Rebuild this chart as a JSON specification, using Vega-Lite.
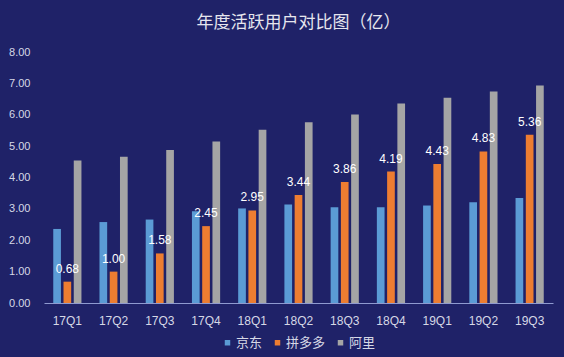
{
  "$schema": "https://vega.github.io/schema/vega-lite/v6.json",
  "autosize": "none",
  "width": 509,
  "height": 251,
  "padding": {"left": 44, "top": 52, "right": 11, "bottom": 54},
  "background": "#1f2268",
  "title": {
    "text": "年度活跃用户对比图（亿）",
    "color": "#e6e6ee",
    "fontSize": 17,
    "fontWeight": "normal",
    "font": "Noto Sans CJK SC",
    "anchor": "middle",
    "frame": "group",
    "offset": 14
  },
  "config": {
    "view": {"stroke": null},
    "font": "Noto Sans CJK SC",
    "legend": {"layout": {"bottom": {"anchor": "middle"}}}
  },
  "data": {
    "values": [
      {"q": "17Q1", "s": "京东", "v": 2.36},
      {"q": "17Q1", "s": "拼多多", "v": 0.68},
      {"q": "17Q1", "s": "阿里", "v": 4.54},
      {"q": "17Q2", "s": "京东", "v": 2.58},
      {"q": "17Q2", "s": "拼多多", "v": 1.00},
      {"q": "17Q2", "s": "阿里", "v": 4.66},
      {"q": "17Q3", "s": "京东", "v": 2.66},
      {"q": "17Q3", "s": "拼多多", "v": 1.58},
      {"q": "17Q3", "s": "阿里", "v": 4.88},
      {"q": "17Q4", "s": "京东", "v": 2.925},
      {"q": "17Q4", "s": "拼多多", "v": 2.45},
      {"q": "17Q4", "s": "阿里", "v": 5.15},
      {"q": "18Q1", "s": "京东", "v": 3.014},
      {"q": "18Q1", "s": "拼多多", "v": 2.95},
      {"q": "18Q1", "s": "阿里", "v": 5.52},
      {"q": "18Q2", "s": "京东", "v": 3.137},
      {"q": "18Q2", "s": "拼多多", "v": 3.44},
      {"q": "18Q2", "s": "阿里", "v": 5.76},
      {"q": "18Q3", "s": "京东", "v": 3.053},
      {"q": "18Q3", "s": "拼多多", "v": 3.86},
      {"q": "18Q3", "s": "阿里", "v": 6.01},
      {"q": "18Q4", "s": "京东", "v": 3.052},
      {"q": "18Q4", "s": "拼多多", "v": 4.19},
      {"q": "18Q4", "s": "阿里", "v": 6.36},
      {"q": "19Q1", "s": "京东", "v": 3.107},
      {"q": "19Q1", "s": "拼多多", "v": 4.43},
      {"q": "19Q1", "s": "阿里", "v": 6.54},
      {"q": "19Q2", "s": "京东", "v": 3.213},
      {"q": "19Q2", "s": "拼多多", "v": 4.83},
      {"q": "19Q2", "s": "阿里", "v": 6.74},
      {"q": "19Q3", "s": "京东", "v": 3.343},
      {"q": "19Q3", "s": "拼多多", "v": 5.36},
      {"q": "19Q3", "s": "阿里", "v": 6.93}
    ]
  },
  "encoding": {
    "x": {
      "field": "q",
      "type": "nominal",
      "sort": null,
      "scale": {"paddingInner": 0.39, "paddingOuter": 0.2},
      "axis": {
        "title": null,
        "labelAngle": 0,
        "labelColor": "#d6d8e6",
        "labelFontSize": 12,
        "labelFont": "Liberation Sans",
        "labelPadding": 12,
        "ticks": false,
        "domainColor": "#8f9ad0",
        "domainWidth": 1.2
      }
    },
    "y": {
      "field": "v",
      "type": "quantitative",
      "scale": {"domain": [0, 8]},
      "axis": {
        "title": null,
        "values": [0, 1, 2, 3, 4, 5, 6, 7, 8],
        "format": ".2f",
        "grid": false,
        "domain": false,
        "ticks": false,
        "labelColor": "#d6d8e6",
        "labelFontSize": 11,
        "labelFont": "Liberation Sans",
        "labelPadding": 14
      }
    }
  },
  "layer": [
    {
      "mark": {"type": "bar"},
      "encoding": {
        "xOffset": {
          "field": "s",
          "type": "nominal",
          "sort": ["京东", "拼多多", "阿里"],
          "scale": {"paddingInner": 0.25}
        },
        "color": {
          "field": "s",
          "type": "nominal",
          "sort": ["京东", "拼多多", "阿里"],
          "scale": {"domain": ["京东", "拼多多", "阿里"], "range": ["#5b9bd5", "#ed7d31", "#a5a5a5"]},
          "legend": {
            "title": null,
            "orient": "bottom",
            "direction": "horizontal",
            "symbolType": "square",
            "symbolSize": 30,
            "symbolStrokeWidth": 0,
            "labelColor": "#d6d8e6",
            "labelFontSize": 13,
            "labelFont": "Noto Sans CJK SC",
            "labelOffset": 2,
            "columnPadding": 8,
            "offset": 10
          }
        }
      }
    },
    {
      "transform": [{"filter": "datum.s === '拼多多'"}],
      "mark": {
        "type": "text",
        "dy": -13,
        "color": "#ffffff",
        "fontSize": 12,
        "font": "Liberation Sans"
      },
      "encoding": {
        "text": {"field": "v", "type": "quantitative", "format": ".2f"}
      }
    }
  ]
}
